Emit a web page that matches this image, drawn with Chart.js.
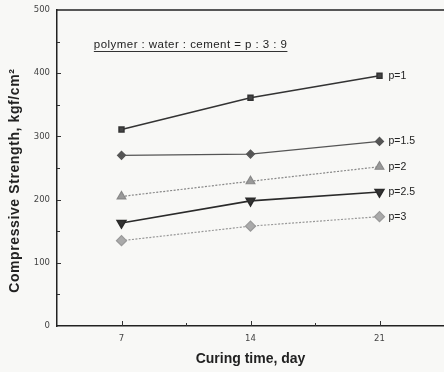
<!DOCTYPE html>
<html>
<head>
<meta charset="utf-8">
<script src="https://cdn.jsdelivr.net/npm/chart.js@4.4.1/dist/chart.umd.min.js"></script>
<style>
  html, body { margin: 0; padding: 0; background: #f8f8f6; }
  #wrap { width: 444px; height: 372px; }
</style>
</head>
<body>
<div id="wrap"><canvas id="myChart" width="444" height="372"></canvas></div>
<script>
// curing days
var days = [7, 14, 21];
var seriesNames = ['p=1', 'p=1.5', 'p=2', 'p=2.5', 'p=3'];
// compressive strength kgf/cm2
var p1 = [311, 361, 396];
var p15 = [270, 272, 292];
var p2 = [205, 229, 252];
var p25 = [163, 198, 212];
var p3 = [135, 158, 173];
var yTicks = [0, 100, 200, 300, 400, 500];
var xTicks = [7, 14, 21];
var noteText = 'polymer : water : cement = p : 3 : 9';
var yTitle = 'Compressive Strength, kgf/cm²';

function pts(vals) {
    return vals.map(function (v, i) { return { x: days[i], y: v }; });
}

// inward tick marks, end labels, the mix note and the y title
var extras = {
    id: 'extras',
    afterDraw: function (chart) {
        var c = chart.ctx, xs = chart.scales.x, ys = chart.scales.y;
        var a = chart.chartArea;
        c.save();
        c.strokeStyle = '#222';
        c.lineWidth = 1.5;
        c.beginPath();
        c.moveTo(a.left, a.top);
        c.lineTo(chart.width, a.top);
        c.stroke();

        c.strokeStyle = '#333';
        c.lineWidth = 1;
        // y ticks every 50
        for (var v = 50; v < 500; v += 50) {
            var py = Math.round(ys.getPixelForValue(v)) + 0.5;
            c.beginPath();
            c.moveTo(a.left, py);
            c.lineTo(a.left + (v % 100 === 0 ? 4 : 3), py);
            c.stroke();
        }
        // x ticks
        [7, 10.5, 14, 17.5, 21].forEach(function (d) {
            var px = Math.round(xs.getPixelForValue(d)) + 0.5;
            c.beginPath();
            c.moveTo(px, a.bottom);
            c.lineTo(px, a.bottom - (d % 7 === 0 ? 5 : 3));
            c.stroke();
        });
        // series labels at last point
        c.fillStyle = '#222';
        c.font = '10.5px "Liberation Sans", Arial, sans-serif';
        c.textBaseline = 'middle';
        chart.data.datasets.forEach(function (ds, i) {
            var meta = chart.getDatasetMeta(i);
            var el = meta.data[meta.data.length - 1];
            c.fillText(seriesNames[i], el.x + 9, el.y);
        });
        // note
        c.font = '11.5px "Liberation Sans", Arial, sans-serif';
        c.letterSpacing = '0.45px';
        var nx = xs.getPixelForValue(5.5), ny = ys.getPixelForValue(445);
        c.fillText(noteText, nx, ny);
        var w = c.measureText(noteText).width;
        c.beginPath();
        c.moveTo(nx, Math.round(ny) + 6.5);
        c.lineTo(nx + w, Math.round(ny) + 6.5);
        c.stroke();
        // y title
        c.translate(15, ys.getPixelForValue(230));
        c.rotate(-Math.PI / 2);
        c.font = 'bold 14px "Liberation Sans", Arial, sans-serif';
        c.letterSpacing = '0.6px';
        c.textAlign = 'center';
        c.fillText(yTitle, 0, 0);
        c.restore();
    }
};

var myChart = new Chart('myChart', {
    type: 'line',
    data: {
        datasets: [
            { label: seriesNames[0], data: pts(p1), borderColor: '#333', backgroundColor: '#444',
              borderWidth: 1.5, pointStyle: 'rect', pointRadius: 3.5 },
            { label: seriesNames[1], data: pts(p15), borderColor: '#555', backgroundColor: '#555',
              borderWidth: 1.2, pointStyle: 'rectRot', pointRadius: 4 },
            { label: seriesNames[2], data: pts(p2), borderColor: '#888', backgroundColor: '#999',
              borderWidth: 1.2, borderDash: [2, 1.5], pointStyle: 'triangle', pointRadius: 5 },
            { label: seriesNames[3], data: pts(p25), borderColor: '#2a2a2a', backgroundColor: '#333',
              borderWidth: 1.6, pointStyle: 'triangle', pointRotation: 180, pointRadius: 5 },
            { label: seriesNames[4], data: pts(p3), borderColor: '#999', backgroundColor: '#aaa',
              borderWidth: 1.2, borderDash: [2, 1.5], pointStyle: 'rectRot', pointRadius: 5 }
        ]
    },
    options: {
        responsive: false,
        animation: false,
        layout: { autoPadding: false, padding: { top: 10, right: 0, left: 0, bottom: 0 } },
        plugins: { legend: { display: false }, tooltip: { enabled: false } },
        elements: { line: { tension: 0 }, point: { borderWidth: 0 } },
        scales: {
            x: {
                type: 'linear', min: 3.5, max: 24.5,
                afterBuildTicks: function (s) { s.ticks = xTicks.map(function (v) { return { value: v }; }); },
                afterFit: function (s) { s.height = 46; s.paddingLeft = 0; s.paddingRight = 0; },
                grid: { display: false, drawTicks: false },
                border: { display: true, color: '#222', width: 1.5 },
                ticks: { padding: 8, color: '#444', font: { size: 8.5, family: 'DejaVu Sans' } },
                title: { display: true, text: 'Curing time, day', color: '#222', padding: { top: 4 },
                         font: { size: 14, weight: 'bold', family: 'Liberation Sans' } }
            },
            y: {
                min: 0, max: 500,
                afterBuildTicks: function (s) { s.ticks = yTicks.map(function (v) { return { value: v }; }); },
                afterFit: function (s) { s.width = 57; s.paddingTop = 0; s.paddingBottom = 0; },
                grid: { display: false, drawTicks: false },
                border: { display: true, color: '#222', width: 1.5 },
                ticks: { padding: 7, color: '#444', font: { size: 8.5, family: 'DejaVu Sans' } },
                title: { display: false }
            }
        }
    },
    plugins: [extras]
});
</script>
</body>
</html>
